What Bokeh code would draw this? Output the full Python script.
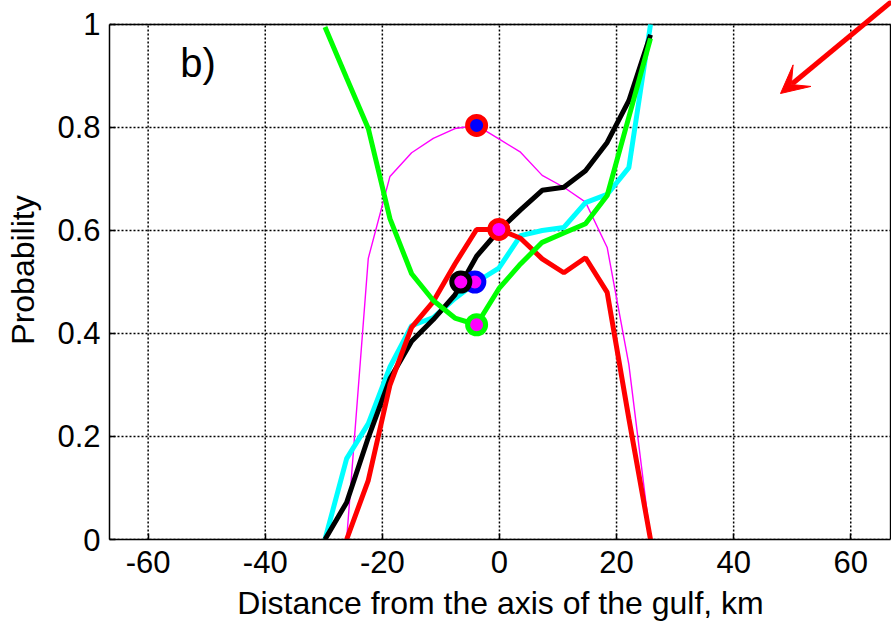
import numpy as np
from bokeh.plotting import figure
from bokeh.models import (Range1d, Arrow, VeeHead, Label, FixedTicker,
                          NumeralTickFormatter)
from bokeh.embed import file_html
from bokeh.resources import INLINE

# ---- data ----
dist = [-29.8, -26.1, -22.4, -18.7, -15.0, -11.3, -7.6, -3.9,
        -0.1, 3.6, 7.3, 11.0, 14.7, 18.4, 22.1, 25.8]

black_p = [0.0, 0.072, 0.198, 0.312, 0.385, 0.427, 0.475, 0.55,
           0.60, 0.64, 0.678, 0.684, 0.716, 0.771, 0.852, 0.98]
cyan_p = [0.0, 0.157, 0.225, 0.335, 0.415, 0.431, 0.468, 0.50,
          0.527, 0.59, 0.60, 0.606, 0.654, 0.67, 0.722, 1.0]
green_p = [0.995, 0.896, 0.798, 0.623, 0.516, 0.464, 0.43, 0.417,
           0.487, 0.535, 0.577, 0.595, 0.613, 0.668, 0.82, 0.973]
# red and magenta start one step later
dist_short = dist[1:]
red_p = [0.0, 0.115, 0.30, 0.412, 0.462, 0.535, 0.602,
         0.602, 0.585, 0.545, 0.518, 0.547, 0.48, 0.235, 0.0]
magenta_p = [0.0, 0.546, 0.705, 0.751, 0.779, 0.798, 0.804,
             0.778, 0.752, 0.707, 0.684, 0.655, 0.567, 0.34, 0.0]

# special points (markers)
mark_x = [-3.9, -0.1, -4.2, -6.6, -3.9]
mark_y = [0.804, 0.602, 0.50, 0.50, 0.417]
mark_line = ["red", "red", "blue", "black", "#00ff00"]
mark_fill = ["blue", "magenta", "magenta", "magenta", "magenta"]

x_ticks = [-60, -40, -20, 0, 20, 40, 60]
y_ticks = [0, 0.2, 0.4, 0.6, 0.8, 1.0]

# axes box (data limits shown in the reference)
X_MIN, X_MAX = -66.6, 66.8
Y_MIN, Y_MAX = 0.0, 1.0
# the canvas area beyond the box (room for the arrow that leaves the box)
X_CANVAS_MAX = 66.96
Y_CANVAS_MAX = 1.0466

FONT = "Liberation Sans"

p = figure(width=891, height=623, output_backend="svg", toolbar_location=None,
           x_range=Range1d(X_MIN, X_CANVAS_MAX),
           y_range=Range1d(Y_MIN, Y_CANVAS_MAX),
           min_border_left=109, min_border_right=0, min_border_top=0,
           min_border_bottom=84)
p.background_fill_color = "white"
p.border_fill_color = "white"
p.outline_line_color = None
p.xgrid.visible = False
p.ygrid.visible = False

for ax in (p.xaxis[0], p.yaxis[0]):
    ax.axis_line_color = "black"
    ax.axis_line_width = 1.5
    ax.major_tick_in = 6
    ax.major_tick_out = 0
    ax.minor_tick_line_color = None
    ax.major_tick_line_color = "black"
    ax.major_tick_line_width = 1.5
    ax.major_label_text_font = FONT
    ax.major_label_text_font_size = "31px"
    ax.major_label_text_color = "black"
    ax.axis_label_text_font = FONT
    ax.axis_label_text_font_size = "32px"
    ax.axis_label_text_font_style = "normal"
    ax.axis_label_text_color = "black"

p.xaxis.bounds = (X_MIN, X_MAX)
p.yaxis.bounds = (Y_MIN, Y_MAX)
p.xaxis.ticker = FixedTicker(ticks=x_ticks)
p.yaxis.ticker = FixedTicker(ticks=y_ticks)
p.xaxis.formatter = NumeralTickFormatter(format="0")
p.yaxis.formatter = NumeralTickFormatter(format="0.[0]")
p.xaxis.major_label_standoff = 11
p.yaxis.major_label_standoff = 9
p.xaxis.axis_label = "Distance from the axis of the gulf, km"
p.xaxis.axis_label_standoff = 9
p.yaxis.axis_label = "Probability"
p.yaxis.axis_label_standoff = 13

# dotted grid inside the box
p.segment(x0=x_ticks, y0=[Y_MIN] * len(x_ticks), x1=x_ticks,
          y1=[Y_MAX] * len(x_ticks), line_color="black", line_dash="2 2",
          line_width=1.5)
p.segment(x0=[X_MIN] * len(y_ticks), y0=y_ticks, x1=[X_MAX] * len(y_ticks),
          y1=y_ticks, line_color="black", line_dash="2 2", line_width=1.5)

# box top and right edges
p.segment(x0=[X_MIN, X_MAX], y0=[Y_MAX, Y_MIN], x1=[X_MAX, X_MAX],
          y1=[Y_MAX, Y_MAX], line_color="black", line_width=1.5)

# lines
p.line(dist_short, magenta_p, line_color="magenta", line_width=1.4)
p.line(dist, cyan_p, line_color="cyan", line_width=5)
p.line(dist, black_p, line_color="black", line_width=5)
p.line(dist_short, red_p, line_color="red", line_width=5)
p.line(dist, green_p, line_color="#00ff00", line_width=5)

# markers
p.scatter(mark_x, mark_y, marker="circle", size=18, line_width=5,
          line_color=mark_line, fill_color=mark_fill)

# panel label
p.add_layout(Label(x=-54.5, y=0.926, text="b)", text_font=FONT,
                   text_font_size="40px", text_baseline="alphabetic",
                   text_color="black"))

# red arrow
arrow_start = (67.0, 1.045)
arrow_end = (48.0, 0.866)
p.add_layout(Arrow(end=VeeHead(size=28, fill_color="red", line_color="red",
                               line_width=1),
                   x_start=arrow_start[0], y_start=arrow_start[1],
                   x_end=arrow_end[0], y_end=arrow_end[1],
                   line_color="red", line_width=5))

open("out.html", "w").write(file_html(p, INLINE))
